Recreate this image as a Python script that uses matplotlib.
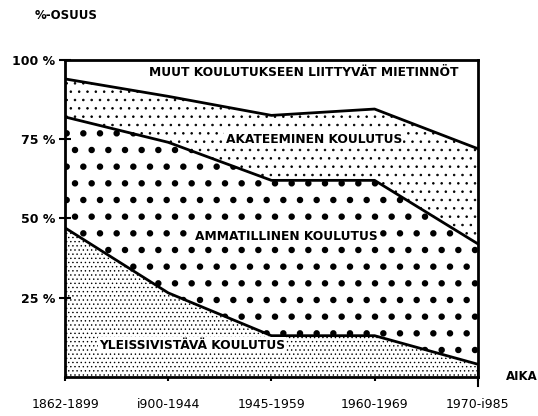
import numpy as np
import matplotlib
matplotlib.use('Agg')
import matplotlib.pyplot as plt

# data (shares in %)
periods = ['1862-1899', 'i900-1944', '1945-1959', '1960-1969', '1970-i985']
yleissivistava = [47, 26.5, 13, 13, 4]
ammatillinen = [35, 47.5, 49, 49, 38]
akateeminen = [12, 14.5, 20.5, 22.5, 30]
muut = [6, 11.5, 17.5, 15.5, 28]
ytick_vals = [25, 50, 75, 100]
ytick_labels = ['25 %', '50 %', '75 %', '100 %']

plt.rcParams['hatch.color'] = 'black'

fig = plt.figure(figsize=(5.38, 4.16), dpi=100)
ax = fig.add_axes([0.121, 0.094, 0.767, 0.762])

x = np.arange(len(periods))
b1 = np.array(yleissivistava)
b2 = b1 + np.array(ammatillinen)
b3 = b2 + np.array(akateeminen)
b4 = b3 + np.array(muut)

# hatch textures imitate the stippled scan
with plt.rc_context({'hatch.linewidth': 0.5}):
	ax.fill_between(x, 0, b1, facecolor='white', edgecolor='black', hatch='....', linewidth=0)
with plt.rc_context({'hatch.linewidth': 2.2}):
	ax.fill_between(x, b1, b2, facecolor='white', edgecolor='black', hatch='.', linewidth=0)
with plt.rc_context({'hatch.linewidth': 0.6}):
	ax.fill_between(x, b2, b3, facecolor='white', edgecolor='black', hatch='..', linewidth=0)
ax.fill_between(x, b3, b4, facecolor='white', edgecolor='white', linewidth=0)

for b in (b1, b2, b3):
	ax.plot(x, b, color='black', linewidth=2)

ax.set_xlim(0, len(periods) - 1)
ax.set_ylim(0, 100)
for s in ax.spines.values():
	s.set_linewidth(2)

ax.set_yticks(ytick_vals)
ax.set_yticklabels(ytick_labels, fontsize=9, fontweight='bold', family='DejaVu Sans')
ax.tick_params(axis='y', length=8, width=1.5, direction='inout', pad=3)
ax.set_xticks(x)
ax.set_xticklabels(periods, fontsize=9, family='DejaVu Sans')
ax.tick_params(axis='x', length=3, width=1.5, direction='out', pad=12)

fs = 8.8
ax.text(2.31, 96, 'MUUT KOULUTUKSEEN LIITTYVÄT MIETINNÖT', ha='center', va='center',
	fontsize=fs, fontweight='bold', family='DejaVu Sans')
ax.text(2.41, 74.8, 'AKATEEMINEN KOULUTUS', ha='center', va='center',
	fontsize=fs, fontweight='bold', family='DejaVu Sans',
	bbox=dict(facecolor='white', edgecolor='none', pad=1))
ax.text(2.14, 44.2, 'AMMATILLINEN KOULUTUS', ha='center', va='center',
	fontsize=fs, fontweight='bold', family='DejaVu Sans',
	bbox=dict(facecolor='white', edgecolor='none', pad=1))
ax.text(1.23, 10, 'YLEISSIVISTÄVÄ KOULUTUS', ha='center', va='center',
	fontsize=fs, fontweight='bold', family='DejaVu Sans',
	bbox=dict(facecolor='white', edgecolor='none', pad=1))

fig.text(0.065, 0.963, '%-OSUUS', fontsize=8.5, fontweight='bold', family='DejaVu Sans', va='center')
fig.text(0.94, 0.094, 'AIKA', fontsize=8.5, fontweight='bold', family='DejaVu Sans', va='center')
ax.plot([4, 4], [-3, 3], color='black', linewidth=1.5, clip_on=False)

fig.savefig('out.png', dpi=100)
